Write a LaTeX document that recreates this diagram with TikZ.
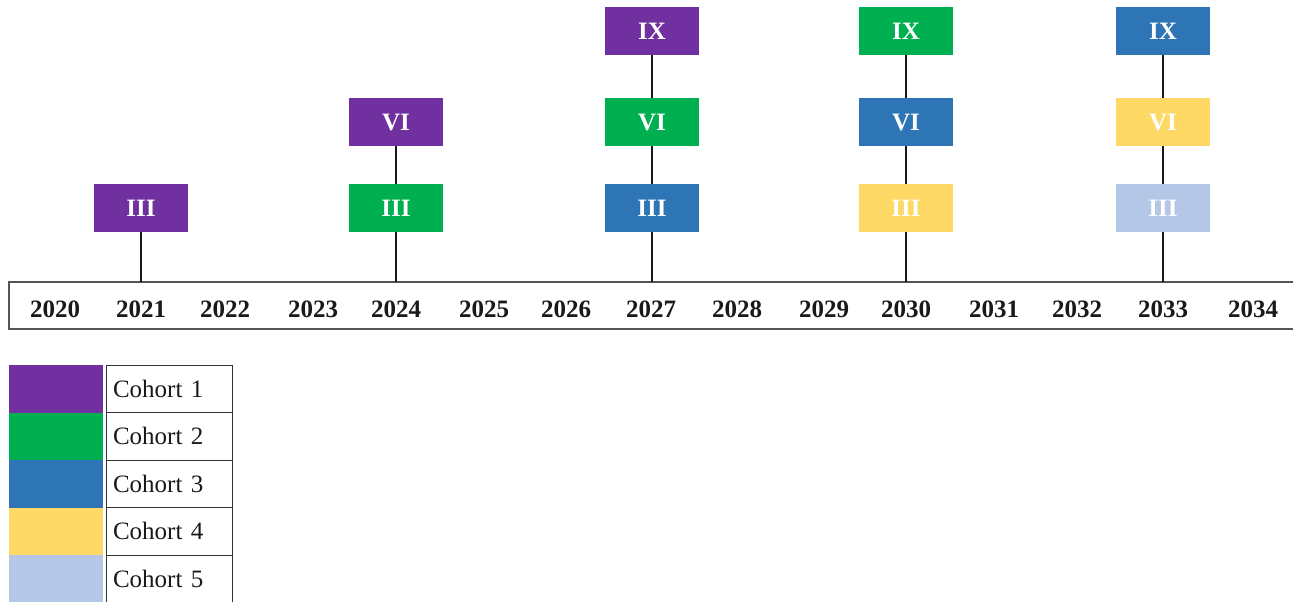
\documentclass[tikz,border=0pt]{standalone}
\usepackage{fontspec}
\setmainfont{Liberation Serif}
\definecolor{cpurple}{HTML}{7030A0}
\definecolor{cgreen}{HTML}{00B050}
\definecolor{cblue}{HTML}{2E75B6}
\definecolor{cyellow}{HTML}{FFD966}
\definecolor{clight}{HTML}{B4C7E7}
\definecolor{barline}{HTML}{555555}
\tikzset{
  cbox/.style={fill=#1, minimum width=94pt, minimum height=48pt, inner sep=0pt,
    text=white, font=\fontsize{25}{25}\selectfont\bfseries, text height=17pt, text depth=0pt},
  yearlbl/.style={font=\fontsize{25}{25}\selectfont\bfseries, text=black!90, inner sep=0pt,
    text height=17pt, text depth=0pt},
  conn/.style={draw=black!90, line width=1.5pt},
  swatch/.style={fill=#1, minimum width=94pt, minimum height=47.5pt, inner sep=0pt},
  cell/.style={draw=black!80, line width=0.8pt, minimum width=126pt, minimum height=47.5pt,
    text width=112pt, inner xsep=7pt, inner ysep=0pt, align=left,
    font=\fontsize{25}{25}\selectfont, text=black!90}
}
\begin{document}
\begin{tikzpicture}[x=1pt,y=-1pt]
\useasboundingbox (0,0) rectangle (1293,602);
% timeline bar
\draw[draw=barline, line width=1.5pt] (1296,282) -- (9,282) -- (9,329) -- (1296,329);
% year labels
\foreach \yr/\xx in {2020/55,2021/141,2022/225,2023/313,2024/396,2025/484,2026/566,2027/651,2028/737,2029/824,2030/906,2031/994,2032/1077,2033/1163,2034/1253}
  \node[yearlbl] (y\yr) at (\xx,309) {\yr};
% bar top coordinates
\coordinate (t2021) at (141,282);
\coordinate (t2024) at (396,282);
\coordinate (t2027) at (652,282);
\coordinate (t2030) at (906,282);
\coordinate (t2033) at (1163,282);
% boxes
\node[cbox=cpurple] (a3) at (141,208) {III};
\node[cbox=cgreen]  (b3) at (396,208) {III};
\node[cbox=cpurple] (b6) at (396,122) {VI};
\node[cbox=cblue]   (c3) at (652,208) {III};
\node[cbox=cgreen]  (c6) at (652,122) {VI};
\node[cbox=cpurple] (c9) at (652,31) {IX};
\node[cbox=cyellow] (d3) at (906,208) {III};
\node[cbox=cblue]   (d6) at (906,122) {VI};
\node[cbox=cgreen]  (d9) at (906,31) {IX};
\node[cbox=clight]  (e3) at (1163,208) {III};
\node[cbox=cyellow] (e6) at (1163,122) {VI};
\node[cbox=cblue]   (e9) at (1163,31) {IX};
% connectors
\draw[conn] (a3.south) -- (t2021);
\draw[conn] (b3.south) -- (t2024);
\draw[conn] (b6.south) -- (b3.north);
\draw[conn] (c3.south) -- (t2027);
\draw[conn] (c6.south) -- (c3.north);
\draw[conn] (c9.south) -- (c6.north);
\draw[conn] (d3.south) -- (t2030);
\draw[conn] (d6.south) -- (d3.north);
\draw[conn] (d9.south) -- (d6.north);
\draw[conn] (e3.south) -- (t2033);
\draw[conn] (e6.south) -- (e3.north);
\draw[conn] (e9.south) -- (e6.north);
% legend
\foreach \i/\col/\yy in {1/cpurple/388.75,2/cgreen/436.25,3/cblue/483.75,4/cyellow/531.25,5/clight/578.75}{
  \node[swatch=\col] (s\i) at (56,\yy) {};
  \node[cell] (l\i) at (169,\yy) {Cohort~\i};
}
\end{tikzpicture}
\end{document}
